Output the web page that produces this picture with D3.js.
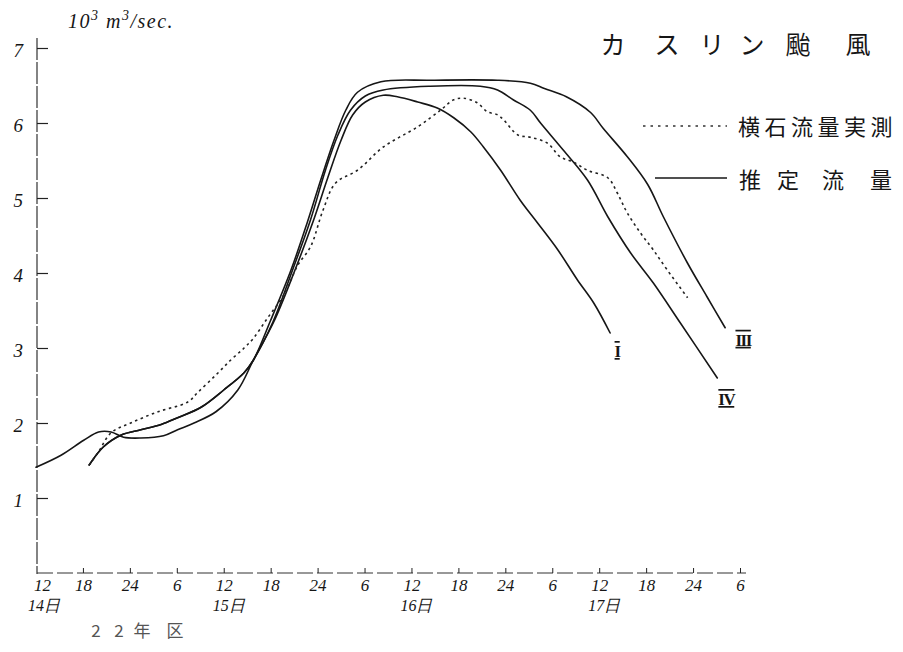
<!DOCTYPE html>
<html><head><meta charset="utf-8">
<script src="https://cdn.jsdelivr.net/npm/d3@7"></script>
<style>body{margin:0;background:#fff}svg{display:block}</style>
</head><body><svg id="c" width="903" height="652"></svg>
<script>
// ---- data ----
const yTicks = [1, 2, 3, 4, 5, 6, 7];
const xTickHours = [0, 6, 12, 18, 24, 30, 36, 42, 48, 54, 60, 66, 72, 78, 84, 90];
const xTickLabels = ["12","18","24","6","12","18","24","6","12","18","24","6","12","18","24","6"];
const dayHours = [0, 24, 48, 72];
const dayLabels = ["14日", "15日", "16日", "17日"];
// hours from 14日 12時, flow in 10^3 m3/sec
const curveI = [[0,1.41],[3.2,1.57],[6.1,1.77],[8.0,1.88],[9.6,1.88],[11.2,1.81],[13.4,1.80],[16.3,1.83],[18.1,1.91],[20.2,2.00],[23.0,2.15],[25.8,2.44],[27.8,2.84],[30.4,3.35],[33.0,4.01],[35.4,4.68],[37.3,5.27],[39.0,5.77],[40.5,6.11],[42.1,6.28],[44.4,6.37],[46.2,6.35],[48.8,6.28],[51.3,6.20],[53.4,6.07],[55.6,5.88],[57.2,5.68],[59.4,5.37],[61.9,4.97],[64.1,4.67],[66.7,4.31],[69.2,3.91],[71.3,3.60],[73.4,3.20]];
const estShared = [[6.8,1.44],[8.6,1.68],[10.9,1.84],[13.4,1.91],[16.0,1.98],[18.1,2.07],[21.1,2.21],[24.0,2.44],[26.6,2.67],[27.8,2.84]];
const curveIIITail = [[30.0,3.37],[32.6,4.04],[34.7,4.68],[36.4,5.24],[38.1,5.77],[39.6,6.17],[41.1,6.41],[44.1,6.55],[50.4,6.57],[59.0,6.57],[63.2,6.53],[65.0,6.46],[67.8,6.35],[70.9,6.14],[72.5,5.93],[75.6,5.55],[78.2,5.18],[80.2,4.75],[83.3,4.13],[85.8,3.68],[88.1,3.27]];
const curveIVTail = [[30.3,3.35],[32.8,4.04],[35.1,4.71],[37.0,5.37],[38.6,5.84],[40.2,6.17],[42.1,6.36],[44.4,6.44],[50.4,6.49],[56.8,6.49],[59.0,6.44],[61.0,6.31],[63.2,6.17],[64.5,6.00],[67.4,5.64],[70.5,5.24],[73.1,4.75],[76.0,4.27],[78.9,3.87],[82.4,3.33],[87.1,2.60]];
const measured = [[6.8,1.44],[7.9,1.60],[9.6,1.87],[12.1,2.00],[15.6,2.15],[19.4,2.28],[20.7,2.41],[23.0,2.64],[24.9,2.84],[26.6,3.00],[27.8,3.13],[29.6,3.40],[31.7,3.71],[33.5,4.11],[35.1,4.35],[36.7,4.84],[38.3,5.20],[41.1,5.37],[44.4,5.68],[48.8,5.95],[51.7,6.17],[53.4,6.31],[54.7,6.33],[56.4,6.27],[57.7,6.15],[59.0,6.11],[59.8,6.04],[61.6,5.84],[63.2,5.81],[65.4,5.73],[67.0,5.55],[68.7,5.48],[70.5,5.37],[73.1,5.27],[74.3,5.07],[75.6,4.80],[77.3,4.53],[78.9,4.31],[80.7,4.04],[83.3,3.67]];
const curveNames = ["I", "III", "IV"];
const titleChars = ["カ","ス","リ","ン","颱","風"];
const legendMeasured = "横石流量実測";
const legendEstimated = ["推","定","流","量"];
const unitText = ["10", "3", " m", "3", "/sec."];
const yearChars = ["2", "2", "年", "区"];

// ---- drawing ----
const svg = d3.select("#c");
const x = d3.scaleLinear().domain([0, 90]).range([36, 740]);
const y = d3.scaleLinear().domain([0, 7]).range([573, 48]);
const ink = "#161616";
const numFont = "'Liberation Serif', serif";
const jpFont = "'Noto Sans CJK JP', sans-serif";

// axis lines
svg.append("line").attr("x1", 37).attr("x2", 37).attr("y1", 38).attr("y2", 574)
  .attr("stroke", "#333").attr("stroke-width", 1.2).attr("stroke-dasharray", "22,2");
svg.append("line").attr("x1", 37).attr("x2", 746).attr("y1", 573).attr("y2", 573)
  .attr("stroke", "#333").attr("stroke-width", 1.2).attr("stroke-dasharray", "16,4");

// y axis
const yAxis = d3.axisLeft(y).tickValues(yTicks).tickSizeInner(-11).tickSizeOuter(0).tickPadding(14)
  .tickFormat(d => String(d));
const gy = svg.append("g").attr("transform", "translate(37,0)").call(yAxis);
gy.select(".domain").remove();
gy.selectAll(".tick line").attr("stroke", "#222").attr("stroke-width", 1.2);
gy.selectAll(".tick text").attr("font-family", numFont).attr("font-style", "italic")
  .attr("font-size", 19).attr("fill", ink).attr("dy", "0.45em");

// x axis
const xAxis = d3.axisBottom(x).tickValues(xTickHours).tickSizeInner(-5).tickSizeOuter(0).tickPadding(6)
  .tickFormat((d, i) => xTickLabels[i]);
const gx = svg.append("g").attr("transform", "translate(0,573)").call(xAxis);
gx.select(".domain").remove();
gx.selectAll(".tick line").attr("stroke", "#222").attr("stroke-width", 1);
gx.selectAll(".tick text").attr("font-family", numFont).attr("font-style", "italic")
  .attr("font-size", 17).attr("fill", ink);
gx.selectAll(".tick").filter(d => d === 0).select("line").remove();
gx.selectAll(".tick").filter(d => d === 0).select("text").attr("x", 6);

// day labels
svg.append("g").selectAll("text").data(dayHours).join("text")
  .attr("x", (d, i) => x(d) + (i === 0 ? 8 : 5)).attr("y", 611)
  .attr("text-anchor", "middle").attr("font-family", numFont).attr("font-style", "italic")
  .attr("font-size", 16).attr("fill", ink).text((d, i) => dayLabels[i]);

// curves
const line = d3.line().x(d => x(d[0])).y(d => y(d[1])).curve(d3.curveCatmullRom.alpha(0.5));
const estimated = [curveI, estShared.concat(curveIIITail), estShared.concat(curveIVTail)];
svg.append("g").selectAll("path").data(estimated).join("path")
  .attr("d", line).attr("fill", "none").attr("stroke", ink).attr("stroke-width", 1.6)
  .attr("stroke-linejoin", "round").attr("stroke-linecap", "round");
svg.append("path").datum(measured).attr("d", line).attr("fill", "none")
  .attr("stroke", "#222").attr("stroke-width", 1.6).attr("stroke-dasharray", "2.5,3.5");

// curve end labels (roman numerals with top/bottom bars)
const nameOffsets = [[7, 24], [18, 18], [9, 27]];
svg.append("g").selectAll("text").data(estimated).join("text")
  .attr("x", (d, i) => x(d[d.length - 1][0]) + nameOffsets[i][0])
  .attr("y", (d, i) => y(d[d.length - 1][1]) + nameOffsets[i][1])
  .attr("text-anchor", "middle").attr("font-family", numFont).attr("font-size", 17)
  .attr("font-weight", "bold").attr("letter-spacing", -1.5)
  .attr("text-decoration", "overline underline")
  .attr("fill", ink).text((d, i) => curveNames[i]);

// title
const titleX = [613, 667, 712, 752, 798, 858];
svg.append("g").selectAll("text").data(titleChars).join("text")
  .attr("x", (d, i) => titleX[i]).attr("y", 54).attr("text-anchor", "middle")
  .attr("font-family", jpFont).attr("font-size", 25).attr("fill", ink).text(d => d);

// legend
svg.append("line").attr("x1", 643).attr("x2", 727).attr("y1", 126).attr("y2", 126)
  .attr("stroke", "#333").attr("stroke-width", 1.4).attr("stroke-dasharray", "2.5,5");
svg.append("text").attr("x", 738).attr("y", 135).attr("font-family", jpFont)
  .attr("font-size", 22).attr("letter-spacing", 4.5).attr("fill", ink).text(legendMeasured);
svg.append("line").attr("x1", 655).attr("x2", 727).attr("y1", 178).attr("y2", 178)
  .attr("stroke", ink).attr("stroke-width", 1.5);
const legX = [750, 788, 833, 881];
svg.append("g").selectAll("text").data(legendEstimated).join("text")
  .attr("x", (d, i) => legX[i]).attr("y", 188).attr("text-anchor", "middle")
  .attr("font-family", jpFont).attr("font-size", 22).attr("fill", ink).text(d => d);

// unit label
const unit = svg.append("text").attr("x", 68).attr("y", 28).attr("font-family", numFont)
  .attr("font-style", "italic").attr("font-size", 20).attr("letter-spacing", 1.5).attr("fill", ink);
unitText.forEach((s, i) => {
  unit.append("tspan").text(s)
    .attr("font-size", (i === 1 || i === 3) ? 14 : 20)
    .attr("dy", (i === 1 || i === 3) ? -8 : (i === 0 ? 0 : 8));
});

// year label
const yearX = [96, 119, 142, 175];
svg.append("g").selectAll("text").data(yearChars).join("text")
  .attr("x", (d, i) => yearX[i]).attr("y", 637).attr("text-anchor", "middle")
  .attr("font-family", jpFont).attr("font-size", 17).attr("fill", "#555").text(d => d);
</script></body></html>
